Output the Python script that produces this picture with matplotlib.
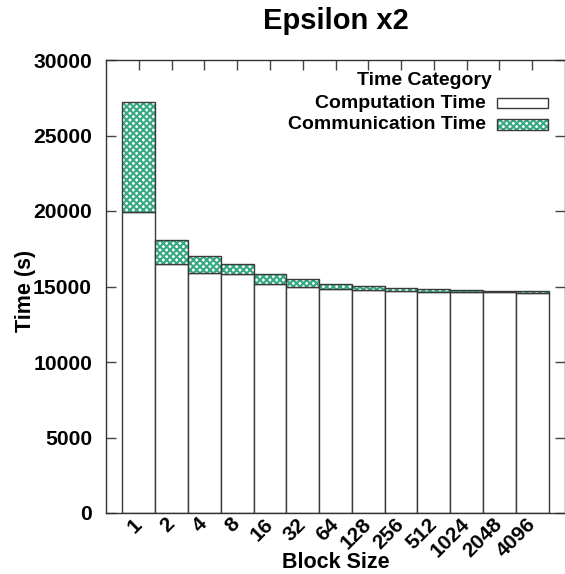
import numpy as np
import matplotlib
matplotlib.use("Agg")
import matplotlib.pyplot as plt
from matplotlib.patches import Rectangle

plt.rcParams['font.family'] = ['Liberation Sans', 'DejaVu Sans']
plt.rcParams['font.weight'] = 'bold'
plt.rcParams['hatch.linewidth'] = 1.5

block_sizes = ["1", "2", "4", "8", "16", "32", "64", "128", "256", "512", "1024", "2048", "4096"]
computation = [19950, 16480, 15910, 15850, 15190, 14950, 14820, 14790, 14680, 14640, 14640, 14660, 14590]
communication = [7300, 1600, 1090, 620, 610, 520, 370, 240, 200, 170, 130, 20, 90]

green = "#35a984"
edge = "#3a3a3a"
pattern = "xxxxx"

fig = plt.figure(figsize=(5.65, 5.74), dpi=100)
ax = fig.add_axes([106 / 565, 1 - 513 / 574, 1 - 106 / 565, 453 / 574])

x = np.arange(len(block_sizes))
ax.bar(x, computation, width=1.0, color="white", edgecolor=edge, linewidth=1.0, zorder=2)
# hatched stack on top, outline drawn separately so the hatch stays green
ax.bar(x, communication, bottom=computation, width=1.0, color="white",
       edgecolor=green, hatch=pattern, linewidth=0, zorder=2)
ax.bar(x, communication, bottom=computation, width=1.0, fill=False,
       edgecolor=edge, linewidth=1.0, zorder=3)

ax.set_xlim(-1, 13)
ax.set_ylim(0, 30000)
ax.set_yticks(np.arange(0, 30001, 5000))
ax.set_xticks(x)
ax.set_xticklabels(block_sizes, rotation=45, ha="right", va="center",
                   rotation_mode="anchor", fontsize=15, fontweight="bold")
ax.tick_params(axis="y", labelsize=15.2, pad=10)
ax.tick_params(axis="x", pad=6)
ax.tick_params(direction="in", length=7, width=1, color="#444444",
               top=True, right=True)
for lab in ax.get_yticklabels():
    lab.set_fontweight("bold")
for s in ax.spines.values():
    s.set_color("#333333")
    s.set_linewidth(1.0)

ax.set_title("Epsilon x2", fontsize=21, fontweight="bold", pad=22)
ax.set_xlabel("Block Size", fontsize=15.5, fontweight="bold", va="center")
ax.xaxis.set_label_coords(0.5, -0.11)
ax.set_ylabel("Time (s)", fontsize=15.5, fontweight="bold", va="center")
ax.yaxis.set_label_coords(-0.176, 0.49)

# key in the upper right corner
tr = ax.transAxes
ax.text(0.84, 0.955, "Time Category", transform=tr, ha="right", va="center",
        fontsize=14, fontweight="bold")
key_labels = ["Computation Time", "Communication Time"]
for i, lab in enumerate(key_labels):
    yc = 0.905 - i * 0.047
    ax.text(0.828, yc, lab, transform=tr, ha="right", va="center",
            fontsize=14, fontweight="bold")
    if i == 1:
        ax.add_patch(Rectangle((0.852, yc - 0.012), 0.111, 0.024, transform=tr,
                               facecolor="white", edgecolor=green, hatch=pattern,
                               linewidth=0, zorder=4))
    ax.add_patch(Rectangle((0.852, yc - 0.012), 0.111, 0.024, transform=tr,
                           fill=False, edgecolor=edge, linewidth=1.0, zorder=5))

fig.savefig("out.png", dpi=100)
